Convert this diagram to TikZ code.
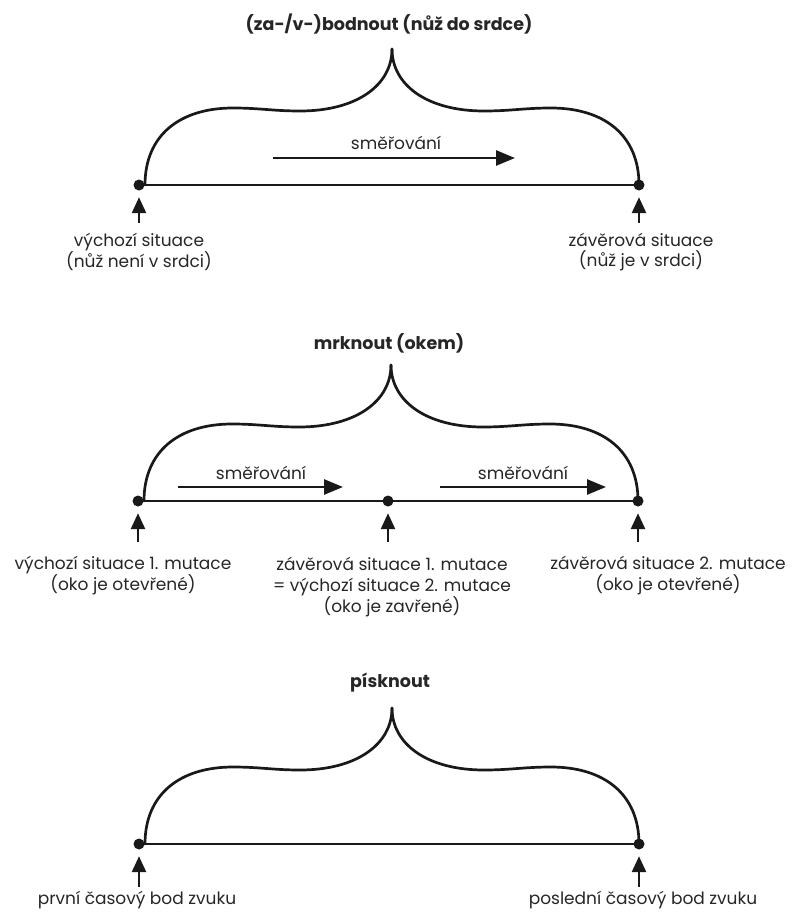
\documentclass[tikz,border=0pt]{standalone}
\usepackage{fontspec}
\setmainfont{Poppins}
\usetikzlibrary{arrows.meta}
\begin{document}
\begin{tikzpicture}[x=1pt,y=-1pt,
  lin/.style={line width=2.7pt, draw=black!90, line cap=round},
  dotnode/.style={circle, fill=black!90, inner sep=0pt, minimum size=11pt},
  uparrow/.style={line width=2.7pt, draw=black!90, -{Triangle[length=16pt,width=14pt]}, shorten >=6.5pt},
  dirarrow/.style={line width=2.7pt, draw=black!90, -{Triangle[length=19pt,width=15pt]}},
  lbl/.style={font=\fontsize{17}{20}\selectfont, text=black!85, align=center, inner sep=0pt},
  lbltwo/.style={font=\fontsize{17}{21}\selectfont, text=black!85, align=center, inner sep=0pt},
  ttl/.style={font=\fontsize{17.5}{19}\selectfont\bfseries, text=black!85, inner sep=0pt},
  dirlbl/.style={font=\fontsize{17}{19}\selectfont, text=black!85, inner sep=0pt},
  pics/cbrace/.style={code={
    \draw[lin] (0,0) .. controls (0,-50) and (35,-77) .. (88,-77)
      .. controls (115,-77) and (128,-74) .. (155,-74)
      .. controls (212,-74) and (247,-100) .. (247,-136);
    \draw[lin] (494,0) .. controls (494,-50) and (459,-77) .. (406,-77)
      .. controls (379,-77) and (366,-74) .. (339,-74)
      .. controls (282,-74) and (247,-100) .. (247,-136);
  }}
]
\useasboundingbox (0,0) rectangle (795,913);

% ---------- panel 1 ----------
\node[ttl] (t1) at (389,24) {(za-/v-)bodnout (nůž do srdce)};
\pic at (145,185) {cbrace};
\node[dotnode] (p1a) at (139,185) {};
\node[dotnode] (p1b) at (639,185) {};
\draw[lin] (p1a.center) -- (p1b.center);
\node[dirlbl] (d1) at (396,143) {směřování};
\coordinate (d1s) at (273,158);
\coordinate (d1e) at (515,158);
\draw[dirarrow] (d1s) -- (d1e);
\coordinate (u1a) at (139,223);
\coordinate (u1b) at (639,223);
\draw[uparrow] (u1a) -- (p1a.south);
\draw[uparrow] (u1b) -- (p1b.south);
\node[lbl] (l1a) at (139,252) {výchozí situace\\(nůž není v srdci)};
\node[lbl] (l1b) at (641,252) {závěrová situace\\(nůž je v srdci)};

% ---------- panel 2 ----------
\node[ttl] (t2) at (389,343) {mrknout (okem)};
\pic at (144,501) {cbrace};
\node[dotnode] (p2a) at (138,501) {};
\node[dotnode] (p2b) at (388,501) {};
\node[dotnode] (p2c) at (638,501) {};
\draw[lin] (p2a.center) -- (p2c.center);
\node[dirlbl] (d2) at (261,473) {směřování};
\node[dirlbl] (d3) at (523,473) {směřování};
\coordinate (d2s) at (178,487);
\coordinate (d2e) at (343,487);
\coordinate (d3s) at (440,487);
\coordinate (d3e) at (606,487);
\draw[dirarrow] (d2s) -- (d2e);
\draw[dirarrow] (d3s) -- (d3e);
\coordinate (u2a) at (138,542);
\coordinate (u2b) at (388,542);
\coordinate (u2c) at (638,542);
\draw[uparrow] (u2a) -- (p2a.south);
\draw[uparrow] (u2b) -- (p2b.south);
\draw[uparrow] (u2c) -- (p2c.south);
\node[lbltwo] (l2a) at (123,576) {výchozí situace 1. mutace\\(oko je otevřené)};
\node[lbltwo] (l2b) at (392,587) {závěrová situace 1. mutace\\= výchozí situace 2. mutace\\(oko je zavřené)};
\node[lbltwo] (l2c) at (668,576) {závěrová situace 2. mutace\\(oko je otevřené)};

% ---------- panel 3 ----------
\node[ttl] (t3) at (390,683) {písknout};
\pic at (145,844) {cbrace};
\node[dotnode] (p3a) at (139,844) {};
\node[dotnode] (p3b) at (639,844) {};
\draw[lin] (p3a.center) -- (p3b.center);
\coordinate (u3a) at (139,887);
\coordinate (u3b) at (639,887);
\draw[uparrow] (u3a) -- (p3a.south);
\draw[uparrow] (u3b) -- (p3b.south);
\node[lbl] (l3a) at (137,900) {první časový bod zvuku};
\node[lbl] (l3b) at (643,900) {poslední časový bod zvuku};
\end{tikzpicture}
\end{document}
